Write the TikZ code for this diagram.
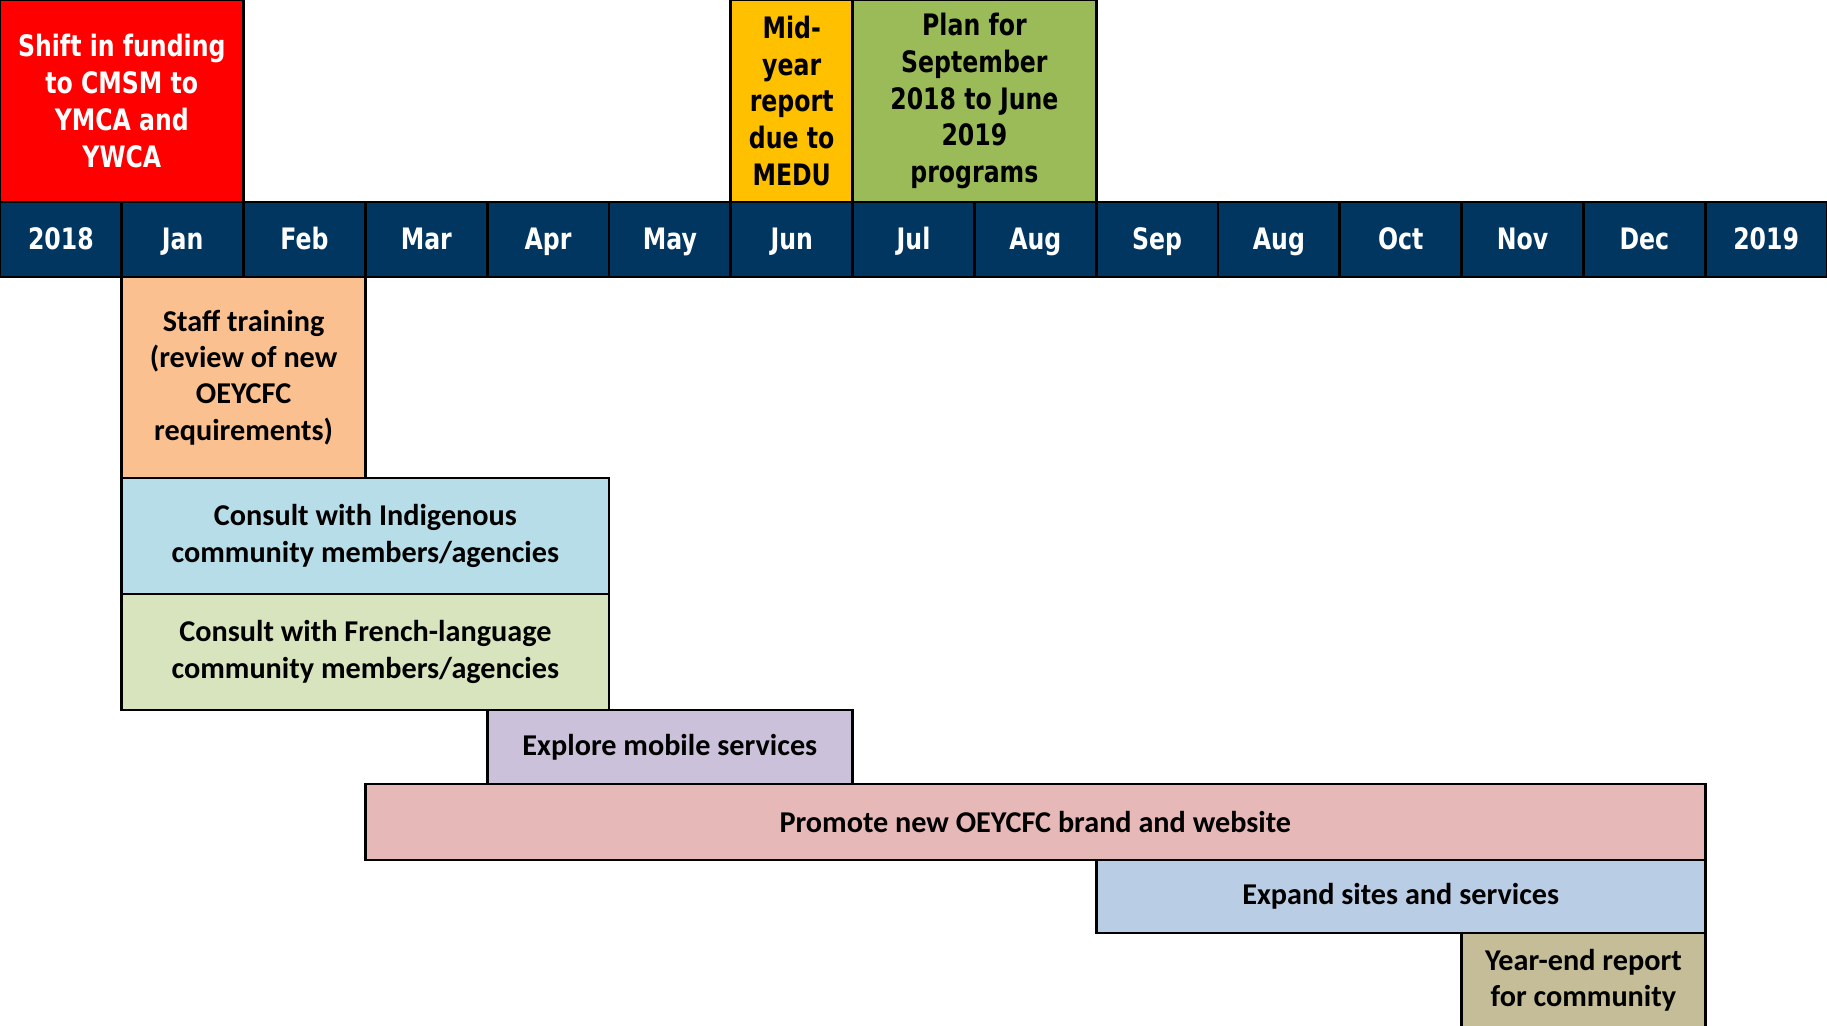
\documentclass[tikz,border=0pt]{standalone}
\usepackage{fontspec}
\setmainfont{Carlito}
\newfontfamily\headfont[FakeStretch=0.8]{DejaVu Sans}
\usetikzlibrary{positioning}

\definecolor{navy}{HTML}{003660}
\definecolor{fundred}{HTML}{FF0000}
\definecolor{midorange}{HTML}{FFC000}
\definecolor{plangreen}{HTML}{9BBB59}
\definecolor{peach}{HTML}{FAC090}
\definecolor{indblue}{HTML}{B7DDE8}
\definecolor{frgreen}{HTML}{D7E4BD}
\definecolor{lavender}{HTML}{CCC1DA}
\definecolor{pink}{HTML}{E6B9B8}
\definecolor{expblue}{HTML}{B9CDE5}
\definecolor{tan}{HTML}{C4BD97}

\tikzset{
  cell/.style={draw=black,line width=0.8pt,inner sep=0pt,outer sep=0pt,
    anchor=north west,align=center},
  month/.style={cell,fill=navy,text=white,minimum width=1.218cm,
    minimum height=0.75cm,text height=1.6ex,text depth=0.45ex,
    font=\headfont\bfseries\fontsize{8.4}{10.5}\selectfont},
  event/.style={cell,minimum height=2.02cm,
    font=\headfont\bfseries\fontsize{8.4}{10.5}\selectfont},
  task/.style={cell,font=\bfseries\fontsize{8.6}{10.3}\selectfont}
}

\begin{document}
\begin{tikzpicture}[x=1cm,y=-1cm]
      \useasboundingbox (0,0) rectangle (18.27,10.26);

      % events above the months
      \node[event,fill=fundred,text=white,minimum width=2.436cm] (shift) at (0,0)
        {Shift in funding\\to CMSM to\\YMCA and\\YWCA};
      \node[event,fill=midorange,minimum width=1.218cm] (midyear) at (7.308,0)
        {Mid-\\year\\report\\due to\\MEDU};
      \node[event,fill=plangreen,minimum width=2.436cm] (plan) at (8.526,0)
        {Plan for\\September\\2018 to June\\2019\\programs};

      % month bar
      \node[month] (y2018) at (0,2.02)      {2018};
      \node[month] (jan)   at (1.218,2.02)  {Jan};
      \node[month] (feb)   at (2.436,2.02)  {Feb};
      \node[month] (mar)   at (3.654,2.02)  {Mar};
      \node[month] (apr)   at (4.872,2.02)  {Apr};
      \node[month] (may)   at (6.090,2.02)  {May};
      \node[month] (jun)   at (7.308,2.02)  {Jun};
      \node[month] (jul)   at (8.526,2.02)  {Jul};
      \node[month] (aug)   at (9.744,2.02)  {Aug};
      \node[month] (sep)   at (10.962,2.02) {Sep};
      \node[month] (aug2)  at (12.180,2.02) {Aug};
      \node[month] (oct)   at (13.398,2.02) {Oct};
      \node[month] (nov)   at (14.616,2.02) {Nov};
      \node[month] (dec)   at (15.834,2.02) {Dec};
      \node[month] (y2019) at (17.052,2.02) {2019};

      % tasks below the months
      \node[task,fill=peach,minimum width=2.436cm,minimum height=2.01cm] (staff) at (1.218,2.77)
        {Staff training\\(review of new\\OEYCFC\\requirements)};
      \node[task,fill=indblue,minimum width=4.872cm,minimum height=1.16cm] (indig) at (1.218,4.78)
        {Consult with Indigenous\\community members/agencies};
      \node[task,fill=frgreen,minimum width=4.872cm,minimum height=1.16cm] (french) at (1.218,5.94)
        {Consult with French-language\\community members/agencies};
      \node[task,fill=lavender,minimum width=3.654cm,minimum height=0.74cm] (mobile) at (4.872,7.10)
        {Explore mobile services};
      \node[task,fill=pink,minimum width=13.398cm,minimum height=0.76cm] (promote) at (3.654,7.84)
        {Promote new OEYCFC brand and website};
      \node[task,fill=expblue,minimum width=6.090cm,minimum height=0.73cm] (expand) at (10.962,8.60)
        {Expand sites and services};
      \node[task,fill=tan,minimum width=2.436cm,minimum height=0.95cm] (yearend) at (14.616,9.33)
        {Year-end report\\for community};

    \end{tikzpicture}
\end{document}
